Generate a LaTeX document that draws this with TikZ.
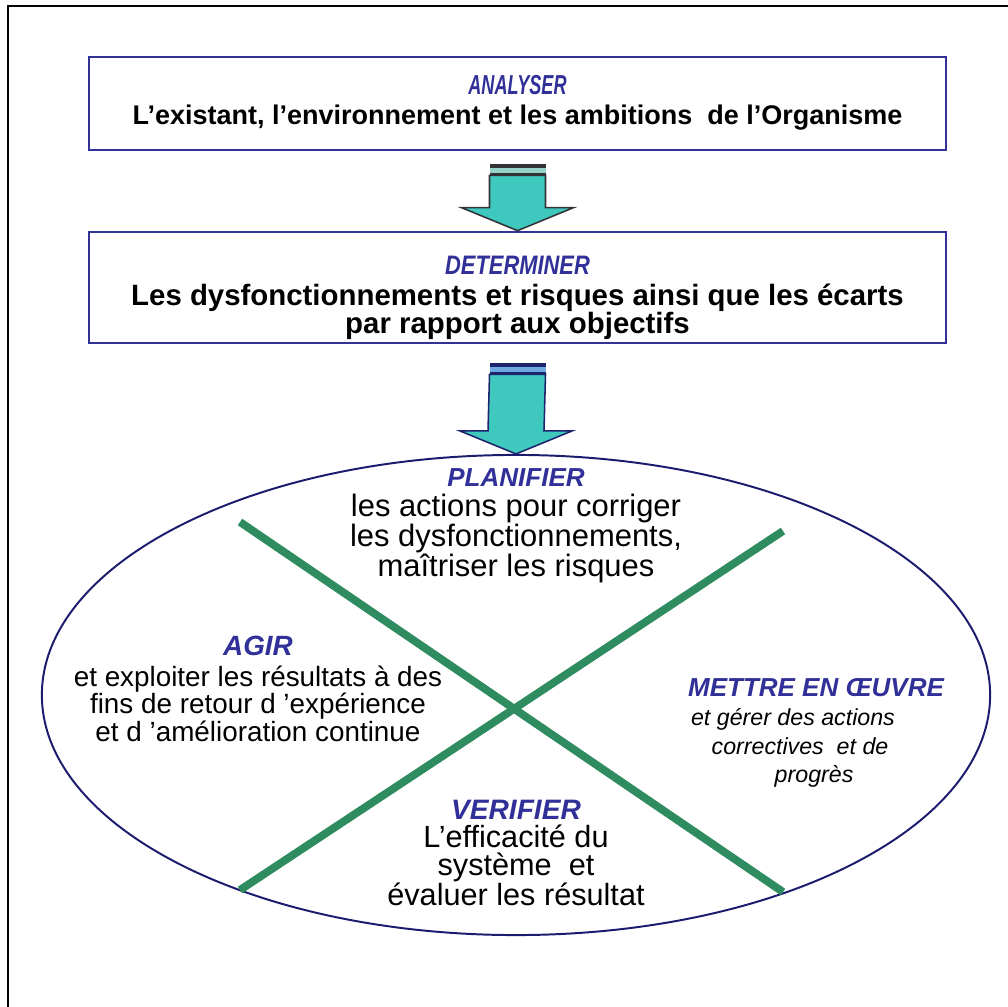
\documentclass[tikz,border=0pt]{standalone}
\usepackage{fontspec}
\setmainfont{Liberation Sans}
\newfontfamily\etroite[FakeStretch=0.82]{Liberation Sans}
\newfontfamily\tresetroite[FakeStretch=0.66]{Liberation Sans}
\usetikzlibrary{shapes.geometric,calc}
\definecolor{bleutitre}{RGB}{48,48,152}
\definecolor{cadre}{RGB}{50,50,150}
\definecolor{contour}{RGB}{28,28,110}
\definecolor{turquoise}{RGB}{62,200,190}
\definecolor{vert}{RGB}{46,140,96}
\definecolor{barre1}{RGB}{50,50,55}
\definecolor{clair1}{RGB}{150,210,200}
\definecolor{barre2}{RGB}{30,35,110}
\definecolor{clair2}{RGB}{110,170,225}
\newcommand{\entete}[1]{{\bfseries\itshape\color{bleutitre}#1}}
\begin{document}
\begin{tikzpicture}[x=0.025cm,y=-0.025cm,
  boite/.style={draw=cadre,line width=1.9pt,minimum width=21.425cm,inner sep=0pt},
  bloc/.style={align=center,inner sep=0pt},
  fleche/.style={draw=#1,line width=1.1pt,fill=turquoise,line join=miter},
  croix/.style={draw=vert,line width=5.6pt}]
\useasboundingbox (0,0) rectangle (1008,1007);
\draw[line width=1.4pt] (8,1007) -- (8,6) -- (1008,6);

\node[boite,minimum height=2.325cm] (ana) at (517.5,103.5) {};
\node[bloc,font=\fontsize{19.2}{21.3}\selectfont] (ana-texte) at (517.5,103)
  {{\tresetroite\entete{\fontsize{19.5}{21.3}\selectfont ANALYSER}}\\
   \bfseries L’existant, l’environnement et les ambitions~ de l’Organisme};
\node[boite,minimum height=2.775cm] (det) at (517.5,287.5) {};
\node[bloc,font=\fontsize{20.9}{20}\selectfont] (det-texte) at (517.5,298)
  {{\etroite\entete{\fontsize{19}{20}\selectfont DETERMINER}}\\[2pt]
   \bfseries Les dysfonctionnements et risques ainsi que les écarts\\
   \bfseries par rapport aux objectifs};
\node[draw=contour,line width=1.4pt,ellipse,minimum width=23.7cm,minimum height=12cm,inner sep=0pt] (roue) at (516,695) {};

\foreach \a/\b/\e/\c/\d in {ana/det/13/barre1/clair1,det/roue/19/barre2/clair2}{
  \fill[\c] ($(\a.south)+(-28,\e)$) rectangle ($(\a.south)+(28,\e+4)$);
  \fill[\d] ($(\a.south)+(-28,\e+4)$) rectangle ($(\a.south)+(28,\e+9)$);
  \fill[\c] ($(\a.south)+(-28,\e+9)$) rectangle ($(\a.south)+(28,\e+11)$);
  \draw[fleche=\c] ($(\a.south)+(-28,\e+11)$) -- ($(\b.north)+(-28,-23)$) -- ($(\b.north)+(-56,-23)$)
    -- (\b.north) -- ($(\b.north)+(56,-23)$) -- ($(\b.north)+(28,-23)$) -- ($(\a.south)+(28,\e+11)$) -- cycle;
}

\coordinate (hg) at (240,522);
\coordinate (hd) at (783,531);
\coordinate (bg) at (240,890);
\coordinate (bd) at (783,892);
\draw[croix] (hg) -- (bd);
\draw[croix] (hd) -- (bg);

\node[bloc,font=\fontsize{22}{21.3}\selectfont] (planif) at (516,526)
  {\entete{\fontsize{18.5}{21.3}\selectfont PLANIFIER}\\ les actions pour corriger\\ les dysfonctionnements,\\ maîtriser les risques};
\node[bloc,font=\fontsize{19.8}{19.8}\selectfont] (agir) at (258,689)
  {\entete{AGIR}\\[2pt] et exploiter les résultats à des\\ fins de retour d ’expérience\\ et d ’amélioration continue};
\node[bloc,font=\fontsize{18.5}{20.5}\selectfont] (mettre) at (816,688) {\entete{METTRE EN ŒUVRE}};
\node[bloc,font=\fontsize{16.5}{20.5}\selectfont\itshape] (mettre-texte) at (800,748)
  {\hspace*{-10pt}et gérer des actions\\ correctives~ et de\\ \hspace*{20pt}progrès};
\node[bloc,font=\fontsize{21.8}{20}\selectfont] (verif) at (516,853)
  {\entete{\fontsize{20}{20}\selectfont VERIFIER}\\ L’efficacité du\\ système~ et\\ évaluer les résultat};
\end{tikzpicture}
\end{document}
